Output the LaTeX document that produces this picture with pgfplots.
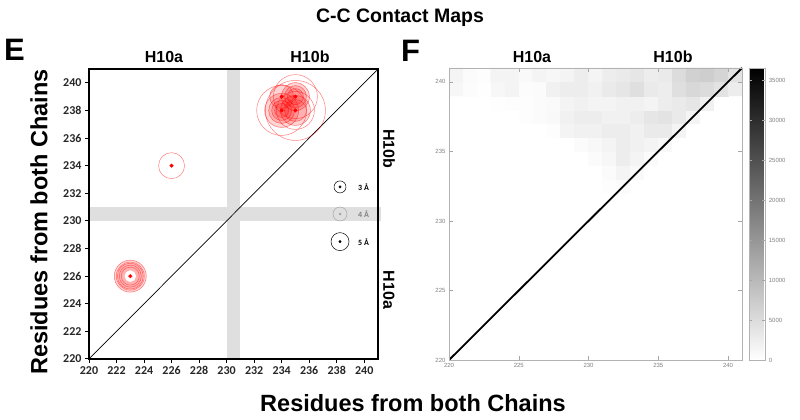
\documentclass[border=0pt]{standalone}
\usepackage{fontspec}
\setmainfont{Liberation Sans}
\newfontfamily\carlito{Carlito}
\usepackage{pgfplots}
\pgfplotsset{compat=1.18}
\pgfplotsset{
  ring/.style={only marks, mark=o, mark size=#1, mark options={draw=red, draw opacity=0.5, line width=0.5pt}},
  disk/.style={only marks, mark=*, mark size=#1, mark options={draw=red, draw opacity=0.5, fill=red, fill opacity=0.17, line width=0.5pt}},
}
\begin{document}
\begin{tikzpicture}
\path[use as bounding box] (0,0) rectangle (800pt,420pt);

% ---- panel E ----
\begin{axis}[
  at={(89pt,61pt)}, anchor=south west, scale only axis,
  width=289pt, height=290pt,
  xmin=220, xmax=241, ymin=220, ymax=241,
  xtick={220,222,...,240}, ytick={220,222,...,240},
  xtick pos=left, ytick pos=left, tick align=outside,
  major tick length=4pt,
  axis line style={line width=1.5pt},
  tick style={black, line width=1pt},
  ticklabel style={font=\carlito\bfseries\fontsize{12}{12}\selectfont, black!85},
  /pgf/number format/assume math mode=true,
  clip=false, axis on top,
]
% grey bands
\addplot[draw=none, fill=gray!25] coordinates {(230,220) (231,220) (231,241) (230,241)} --cycle;
\addplot[draw=none, fill=gray!25] coordinates {(220,230) (241.2,230) (241.2,231) (220,231)} --cycle;
% diagonal
\addplot[black, line width=0.7pt] coordinates {(220,220) (241,241)};

% contacts
\addplot[disk=16] coordinates {(223,226)};
\addplot[disk=13] coordinates {(223,226)};
\addplot[ring=14] coordinates {(223,226)};
\addplot[ring=11] coordinates {(223,226)};
\addplot[ring=9] coordinates {(223,226)};
\addplot[only marks, mark=*, mark size=5.5, white] coordinates {(223,226)};

\addplot[ring=13] coordinates {(226,234)};

\addplot[ring=30] coordinates {(235,238)};
\addplot[ring=25] coordinates {(234,238)};
\addplot[ring=22] coordinates {(235,239)};
\addplot[ring=19] coordinates {(235,238)};
\addplot[disk=17] coordinates {(234,238)};
\addplot[disk=15] coordinates {(235,238)};
\addplot[disk=14] coordinates {(235,239)};
\addplot[disk=13] coordinates {(234,238)};
\addplot[disk=12] coordinates {(234,239)};
\addplot[disk=11] coordinates {(235,239)};
\addplot[disk=10] coordinates {(234,238)};
\addplot[disk=8] coordinates {(235,239)};
\addplot[disk=7] coordinates {(234,238)};
\addplot[disk=11] coordinates {(235,238)};

\addplot[only marks, mark=*, mark size=1.8pt, red] coordinates {
  (223,226) (226,234) (234,238) (235,238) (234,239) (235,239)};

% distance key
\addplot[only marks, mark=o, mark size=6, black, mark options={line width=0.5pt}] coordinates {(238.24,232.46)};
\addplot[only marks, mark=o, mark size=7, gray!70, mark options={line width=0.5pt}] coordinates {(238.24,230.5)};
\addplot[only marks, mark=o, mark size=9, black, mark options={line width=0.5pt}] coordinates {(238.24,228.5)};
\addplot[only marks, mark=*, mark size=1.2, black] coordinates {(238.24,232.46) (238.24,228.5)};
\addplot[only marks, mark=*, mark size=1.2, gray!70] coordinates {(238.24,230.5)};
\node[anchor=west, font=\carlito\bfseries\fontsize{8}{8}\selectfont] at (axis cs:239.3,232.46) {3 Å};
\node[anchor=west, font=\carlito\bfseries\fontsize{8}{8}\selectfont, gray] at (axis cs:239.3,230.5) {4 Å};
\node[anchor=west, font=\carlito\bfseries\fontsize{8}{8}\selectfont] at (axis cs:239.3,228.5) {5 Å};
\end{axis}

% ---- panel F ----
\begin{axis}[
  at={(449pt,60pt)}, anchor=south west, scale only axis,
  width=293pt, height=292pt,
  xmin=220, xmax=241, ymin=220, ymax=241,
  xtick={220,225,...,240}, ytick={220,225,...,240},
  tick align=inside, major tick length=4pt,
  axis line style={gray!60, line width=0.6pt},
  tick style={gray!70, line width=0.5pt},
  ticklabel style={font=\fontsize{6}{6}\selectfont, gray},
  /pgf/number format/assume math mode=true,
  colormap={wb}{color(0cm)=(white); color(1cm)=(black)},
  point meta min=0, point meta max=36500,
  colorbar,
  colorbar shift/.style={xshift=7pt},
  colorbar style={
    width=16pt,
    ytick={0,5000,...,35000},
    scaled y ticks=false,
    yticklabel style={font=\fontsize{6}{6}\selectfont, gray, /pgf/number format/1000 sep={}},
    /pgf/number format/assume math mode=true,
    axis line style={gray!60},
    major tick length=3pt,
    tick style={gray!70},
  },
  axis on top,
]
\addplot[matrix plot*, mesh/cols=21, point meta=explicit] coordinates {
(220.5,232.5) [0] (221.5,232.5) [0] (222.5,232.5) [0] (223.5,232.5) [0] (224.5,232.5) [0] (225.5,232.5) [0] (226.5,232.5) [0] (227.5,232.5) [0] (228.5,232.5) [0] (229.5,232.5) [0] (230.5,232.5) [0] (231.5,232.5) [300] (232.5,232.5) [500] (233.5,232.5) [0] (234.5,232.5) [0] (235.5,232.5) [0] (236.5,232.5) [0] (237.5,232.5) [0] (238.5,232.5) [0] (239.5,232.5) [0] (240.5,232.5) [0]

(220.5,233.5) [0] (221.5,233.5) [0] (222.5,233.5) [0] (223.5,233.5) [0] (224.5,233.5) [0] (225.5,233.5) [0] (226.5,233.5) [0] (227.5,233.5) [0] (228.5,233.5) [0] (229.5,233.5) [0] (230.5,233.5) [0] (231.5,233.5) [600] (232.5,233.5) [1500] (233.5,233.5) [800] (234.5,233.5) [0] (235.5,233.5) [0] (236.5,233.5) [0] (237.5,233.5) [0] (238.5,233.5) [0] (239.5,233.5) [0] (240.5,233.5) [0]

(220.5,234.5) [0] (221.5,234.5) [0] (222.5,234.5) [0] (223.5,234.5) [0] (224.5,234.5) [0] (225.5,234.5) [0] (226.5,234.5) [0] (227.5,234.5) [0] (228.5,234.5) [0] (229.5,234.5) [0] (230.5,234.5) [500] (231.5,234.5) [1200] (232.5,234.5) [2500] (233.5,234.5) [1500] (234.5,234.5) [500] (235.5,234.5) [0] (236.5,234.5) [0] (237.5,234.5) [0] (238.5,234.5) [0] (239.5,234.5) [0] (240.5,234.5) [0]

(220.5,235.5) [0] (221.5,235.5) [0] (222.5,235.5) [0] (223.5,235.5) [0] (224.5,235.5) [0] (225.5,235.5) [0] (226.5,235.5) [0] (227.5,235.5) [0] (228.5,235.5) [0] (229.5,235.5) [500] (230.5,235.5) [1000] (231.5,235.5) [1500] (232.5,235.5) [2500] (233.5,235.5) [2000] (234.5,235.5) [1500] (235.5,235.5) [1000] (236.5,235.5) [0] (237.5,235.5) [0] (238.5,235.5) [0] (239.5,235.5) [0] (240.5,235.5) [0]

(220.5,236.5) [0] (221.5,236.5) [0] (222.5,236.5) [0] (223.5,236.5) [0] (224.5,236.5) [0] (225.5,236.5) [0] (226.5,236.5) [0] (227.5,236.5) [300] (228.5,236.5) [1500] (229.5,236.5) [2000] (230.5,236.5) [2000] (231.5,236.5) [2500] (232.5,236.5) [2500] (233.5,236.5) [2000] (234.5,236.5) [3000] (235.5,236.5) [3000] (236.5,236.5) [1500] (237.5,236.5) [0] (238.5,236.5) [0] (239.5,236.5) [0] (240.5,236.5) [0]

(220.5,237.5) [0] (221.5,237.5) [0] (222.5,237.5) [0] (223.5,237.5) [0] (224.5,237.5) [0] (225.5,237.5) [300] (226.5,237.5) [500] (227.5,237.5) [800] (228.5,237.5) [2000] (229.5,237.5) [2500] (230.5,237.5) [2500] (231.5,237.5) [2000] (232.5,237.5) [2000] (233.5,237.5) [2500] (234.5,237.5) [3500] (235.5,237.5) [4000] (236.5,237.5) [3000] (237.5,237.5) [1500] (238.5,237.5) [0] (239.5,237.5) [0] (240.5,237.5) [0]

(220.5,238.5) [0] (221.5,238.5) [0] (222.5,238.5) [0] (223.5,238.5) [200] (224.5,238.5) [300] (225.5,238.5) [300] (226.5,238.5) [500] (227.5,238.5) [700] (228.5,238.5) [1500] (229.5,238.5) [2000] (230.5,238.5) [1500] (231.5,238.5) [1500] (232.5,238.5) [2000] (233.5,238.5) [2000] (234.5,238.5) [1500] (235.5,238.5) [2500] (236.5,238.5) [3000] (237.5,238.5) [3500] (238.5,238.5) [2000] (239.5,238.5) [0] (240.5,238.5) [0]

(220.5,239.5) [1200] (221.5,239.5) [400] (222.5,239.5) [200] (223.5,239.5) [1200] (224.5,239.5) [1500] (225.5,239.5) [400] (226.5,239.5) [600] (227.5,239.5) [2000] (228.5,239.5) [2500] (229.5,239.5) [2500] (230.5,239.5) [2000] (231.5,239.5) [3000] (232.5,239.5) [3500] (233.5,239.5) [4500] (234.5,239.5) [3000] (235.5,239.5) [2500] (236.5,239.5) [4500] (237.5,239.5) [5500] (238.5,239.5) [5000] (239.5,239.5) [4000] (240.5,239.5) [2500]

(220.5,240.5) [1500] (221.5,240.5) [500] (222.5,240.5) [300] (223.5,240.5) [1500] (224.5,240.5) [1500] (225.5,240.5) [800] (226.5,240.5) [1500] (227.5,240.5) [1200] (228.5,240.5) [1500] (229.5,240.5) [2500] (230.5,240.5) [1500] (231.5,240.5) [2500] (232.5,240.5) [3000] (233.5,240.5) [3500] (234.5,240.5) [2500] (235.5,240.5) [3000] (236.5,240.5) [5000] (237.5,240.5) [6500] (238.5,240.5) [7000] (239.5,240.5) [6000] (240.5,240.5) [4000]
};
\addplot[black, line width=1.8pt] coordinates {(220,220) (241,241)};
\end{axis}

% ---- texts ----
\node[anchor=base, font=\bfseries\fontsize{19.5}{20}\selectfont] at (400pt,397pt) {C-C Contact Maps};
\node[anchor=base west, inner sep=0pt, font=\bfseries\fontsize{31}{31}\selectfont] at (4pt,359pt) {E};
\node[anchor=base west, inner sep=0pt, font=\bfseries\fontsize{31}{31}\selectfont] at (401pt,358pt) {F};
\node[anchor=base, font=\bfseries\fontsize{16}{16}\selectfont] at (164pt,357pt) {H10a};
\node[anchor=base, font=\bfseries\fontsize{16}{16}\selectfont] at (310pt,357pt) {H10b};
\node[anchor=base, font=\bfseries\fontsize{16}{16}\selectfont] at (532pt,357pt) {H10a};
\node[anchor=base, font=\bfseries\fontsize{16}{16}\selectfont] at (673pt,357pt) {H10b};
\node[rotate=-90, font=\bfseries\fontsize{16}{16}\selectfont] at (389pt,271pt) {H10b};
\node[rotate=-90, font=\bfseries\fontsize{16}{16}\selectfont] at (389pt,130pt) {H10a};
\node[rotate=90, font=\bfseries\fontsize{23.5}{24}\selectfont] at (39pt,198pt) {Residues from both Chains};
\node[anchor=base, font=\bfseries\fontsize{23.5}{24}\selectfont] at (413pt,8pt) {Residues from both Chains};
\end{tikzpicture}
\end{document}
